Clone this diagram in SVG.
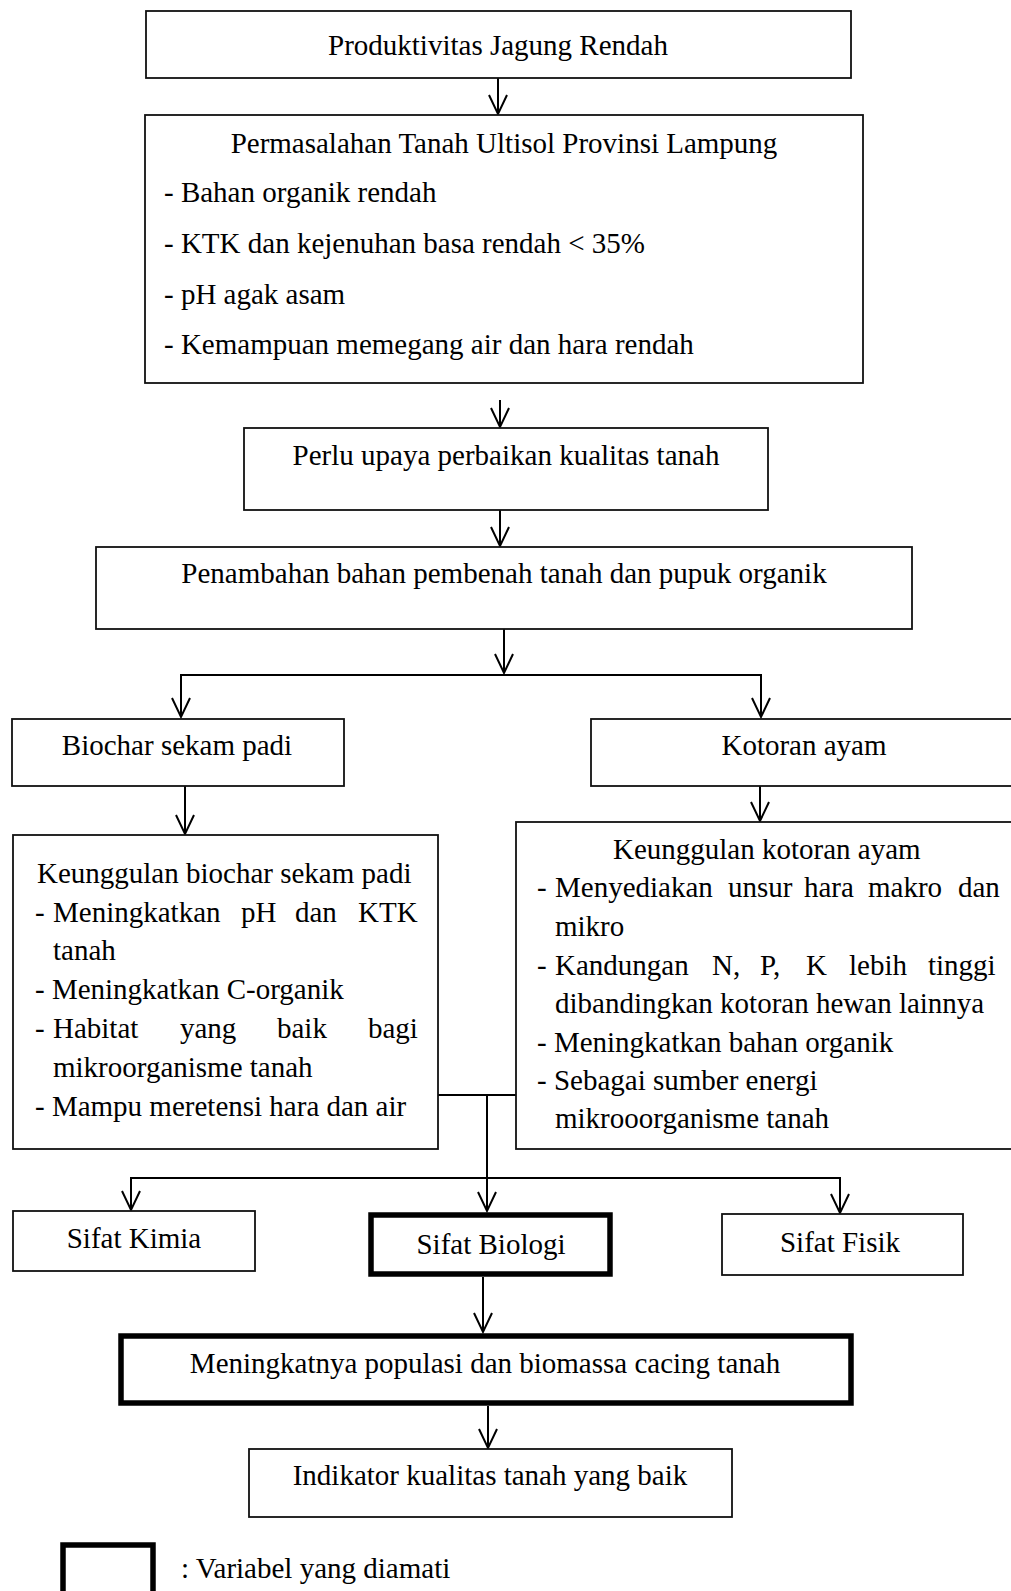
<svg xmlns="http://www.w3.org/2000/svg" width="1011" height="1591" viewBox="0 0 1011 1591">
<style>
text{font-family:"Liberation Serif","Times New Roman",serif;font-size:29px;fill:#000}
.c{text-anchor:middle}
.box{fill:#fff;stroke:#111;stroke-width:1.8}
.thick{fill:#fff;stroke:#000;stroke-width:5.5}
.ln{fill:none;stroke:#000;stroke-width:2}
</style>
<defs>
<marker id="ah" markerUnits="userSpaceOnUse" orient="auto" markerWidth="30" markerHeight="30" refX="0" refY="0" overflow="visible">
<path d="M-19,-9 L0,0 L-19,9" fill="none" stroke="#000" stroke-width="2"/>
</marker>
</defs>
<rect width="1011" height="1591" fill="#fff"/>

<g id="connectors">
<line class="ln" x1="498" y1="78" x2="498" y2="114" marker-end="url(#ah)"/>
<line class="ln" x1="500" y1="400" x2="500" y2="427" marker-end="url(#ah)"/>
<line class="ln" x1="500" y1="510" x2="500" y2="546" marker-end="url(#ah)"/>
<line class="ln" x1="504" y1="629" x2="504" y2="673" marker-end="url(#ah)"/>
<polyline class="ln" points="181,675 761,675"/>
<line class="ln" x1="181" y1="674" x2="181" y2="717" marker-end="url(#ah)"/>
<line class="ln" x1="761" y1="674" x2="761" y2="717" marker-end="url(#ah)"/>
<line class="ln" x1="185" y1="786" x2="185" y2="834" marker-end="url(#ah)"/>
<line class="ln" x1="760" y1="786" x2="760" y2="821" marker-end="url(#ah)"/>
<line class="ln" x1="438" y1="1095" x2="516" y2="1095"/>
<line class="ln" x1="487" y1="1096" x2="487" y2="1178"/>
<line class="ln" x1="130" y1="1178" x2="841" y2="1178"/>
<line class="ln" x1="131" y1="1177" x2="131" y2="1210" marker-end="url(#ah)"/>
<line class="ln" x1="487" y1="1178" x2="487" y2="1211" marker-end="url(#ah)"/>
<line class="ln" x1="840" y1="1177" x2="840" y2="1213" marker-end="url(#ah)"/>
<line class="ln" x1="483" y1="1277" x2="483" y2="1332" marker-end="url(#ah)"/>
<line class="ln" x1="488" y1="1406" x2="488" y2="1448" marker-end="url(#ah)"/>
</g>

<g id="n1">
<rect class="box" x="146" y="11" width="705" height="67"/>
<text class="c" x="498" y="55">Produktivitas Jagung Rendah</text>
</g>

<g id="n2">
<rect class="box" x="145" y="115" width="718" height="268"/>
<text class="c" x="504" y="153">Permasalahan Tanah Ultisol Provinsi Lampung</text>
<text x="164" y="202">- Bahan organik rendah</text>
<text x="164" y="253">- KTK dan kejenuhan basa rendah &lt; 35%</text>
<text x="164" y="304">- pH agak asam</text>
<text x="164" y="354">- Kemampuan memegang air dan hara rendah</text>
</g>

<g id="n3">
<rect class="box" x="244" y="428" width="524" height="82"/>
<text class="c" x="506" y="465">Perlu upaya perbaikan kualitas tanah</text>
</g>

<g id="n4">
<rect class="box" x="96" y="547" width="816" height="82"/>
<text class="c" x="504" y="583">Penambahan bahan pembenah tanah dan pupuk organik</text>
</g>

<g id="n5">
<rect class="box" x="12" y="719" width="332" height="67"/>
<text class="c" x="177" y="755">Biochar sekam padi</text>
</g>

<g id="n6">
<rect class="box" x="591" y="719" width="440" height="67"/>
<text class="c" x="804" y="755">Kotoran ayam</text>
</g>

<g id="n7">
<rect class="box" x="13" y="835" width="425" height="314"/>
<text x="37" y="883">Keunggulan biochar sekam padi</text>
<text y="922"><tspan x="35">-</tspan><tspan x="53">Meningkatkan</tspan><tspan x="241">pH</tspan><tspan x="295">dan</tspan><tspan x="358">KTK</tspan></text>
<text x="53" y="960">tanah</text>
<text x="35" y="999">- Meningkatkan C-organik</text>
<text y="1038"><tspan x="35">-</tspan><tspan x="53">Habitat</tspan><tspan x="180">yang</tspan><tspan x="277">baik</tspan><tspan x="368">bagi</tspan></text>
<text x="53" y="1077">mikroorganisme tanah</text>
<text x="35" y="1116">- Mampu meretensi hara dan air</text>
</g>

<g id="n8">
<rect class="box" x="516" y="822" width="510" height="327"/>
<text x="613" y="859">Keunggulan kotoran ayam</text>
<text y="897"><tspan x="537">-</tspan><tspan x="555">Menyediakan</tspan><tspan x="728">unsur</tspan><tspan x="804">hara</tspan><tspan x="868">makro</tspan><tspan x="958">dan</tspan></text>
<text x="555" y="936">mikro</text>
<text y="975"><tspan x="537">-</tspan><tspan x="555">Kandungan</tspan><tspan x="712">N,</tspan><tspan x="760">P,</tspan><tspan x="806">K</tspan><tspan x="849">lebih</tspan><tspan x="928">tinggi</tspan></text>
<text x="555" y="1013">dibandingkan kotoran hewan lainnya</text>
<text x="537" y="1052">- Meningkatkan bahan organik</text>
<text x="537" y="1090">- Sebagai sumber energi</text>
<text x="555" y="1128">mikrooorganisme tanah</text>
</g>

<g id="n9">
<rect class="box" x="13" y="1211" width="242" height="60"/>
<text class="c" x="134" y="1248">Sifat Kimia</text>
</g>

<g id="n10">
<rect class="thick" x="371" y="1215" width="239" height="59"/>
<text class="c" x="491" y="1254">Sifat Biologi</text>
</g>

<g id="n11">
<rect class="box" x="722" y="1214" width="241" height="61"/>
<text class="c" x="840" y="1252">Sifat Fisik</text>
</g>

<g id="n12">
<rect class="thick" x="121" y="1336" width="730" height="67"/>
<text class="c" x="485" y="1373">Meningkatnya populasi dan biomassa cacing tanah</text>
</g>

<g id="n13">
<rect class="box" x="249" y="1449" width="483" height="68"/>
<text class="c" x="490" y="1485">Indikator kualitas tanah yang baik</text>
</g>

<g id="legend">
<rect class="thick" x="63" y="1545" width="90" height="80"/>
<text x="181" y="1578">: Variabel yang diamati</text>
</g>
</svg>
